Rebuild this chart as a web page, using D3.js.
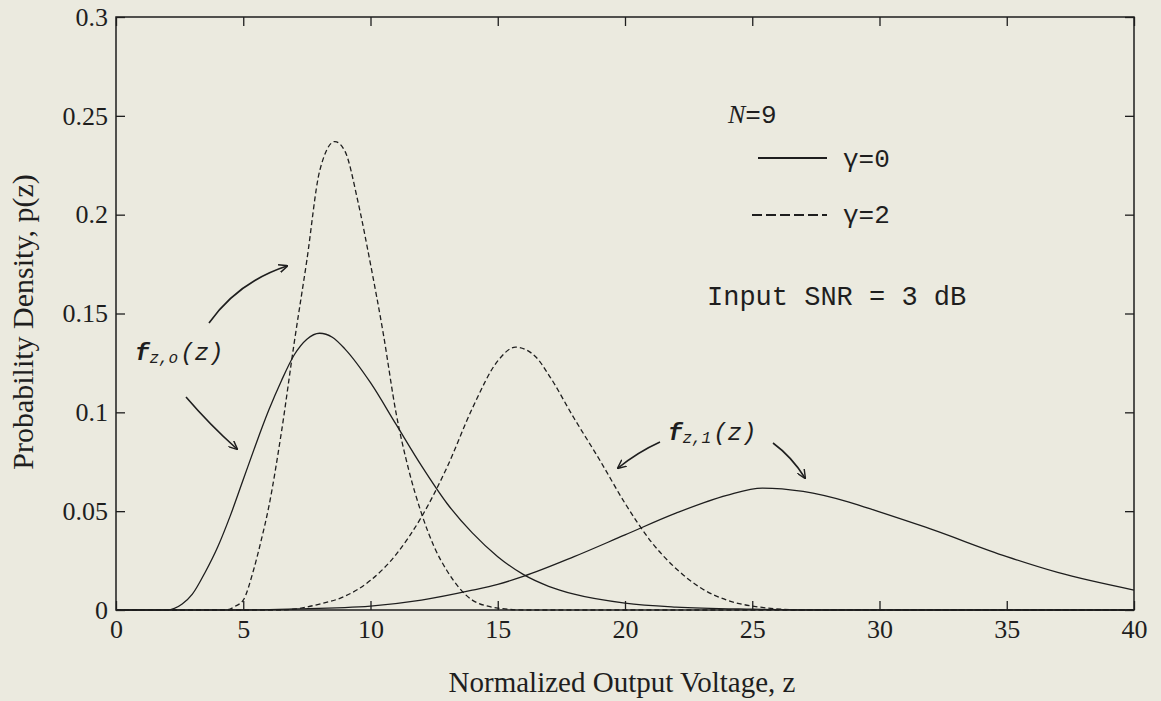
<!DOCTYPE html>
<html>
<head>
<meta charset="utf-8">
<script src="https://cdn.jsdelivr.net/npm/d3@7"></script>
<style>
  body { margin: 0; background: #ebeadf; }
  svg { display: block; }
</style>
</head>
<body>
<div id="chart"></div>
<script>
// values (z, p(z))
const xTicks = [0, 5, 10, 15, 20, 25, 30, 35, 40];
const yTicks = [0, 0.05, 0.1, 0.15, 0.2, 0.25, 0.3];

// gamma = 0, f_z,0
const zSolid0 = [0, 2, 2.6, 3, 3.5, 4, 4.5, 5, 5.5, 6, 6.5, 7, 7.5, 8, 8.5, 9, 10, 11, 12, 13, 14, 15, 16, 17, 18, 20, 22, 25, 28, 40];
const pSolid0 = [0, 0, 0.003, 0.008, 0.019, 0.032, 0.048, 0.066, 0.084, 0.101, 0.116, 0.129, 0.137, 0.140, 0.138, 0.132, 0.115, 0.094, 0.073, 0.054, 0.039, 0.027, 0.018, 0.012, 0.008, 0.0035, 0.0015, 0.0004, 0, 0];
// gamma = 0, f_z,1
const zSolid1 = [0, 5, 7, 10, 12, 14, 15, 16, 18, 20, 22, 24, 25.4, 27, 28.8, 30, 32, 35, 37, 40];
const pSolid1 = [0, 0, 0.0005, 0.002, 0.005, 0.010, 0.013, 0.017, 0.027, 0.038, 0.049, 0.058, 0.0617, 0.060, 0.0546, 0.0496, 0.041, 0.027, 0.019, 0.0101];
// gamma = 2, f_z,0
const zDash0 = [0, 4.3, 4.7, 5, 5.4, 5.7, 6, 6.5, 7, 7.5, 8, 8.6, 9, 9.5, 10, 10.5, 11, 11.5, 12, 12.5, 13, 13.5, 14, 15, 16, 40];
const pDash0 = [0, 0, 0.002, 0.005, 0.02, 0.035, 0.052, 0.09, 0.135, 0.177, 0.222, 0.237, 0.232, 0.207, 0.175, 0.140, 0.100, 0.071, 0.049, 0.032, 0.020, 0.011, 0.005, 0.001, 0, 0];
// gamma = 2, f_z,1
const zDash1 = [0, 6.5, 8, 9, 10, 11, 12, 13, 14, 15, 15.7, 16.5, 17, 18, 19, 20, 21, 22, 23, 24, 25, 27, 40];
const pDash1 = [0, 0, 0.003, 0.007, 0.015, 0.028, 0.047, 0.072, 0.102, 0.126, 0.133, 0.128, 0.119, 0.097, 0.076, 0.054, 0.035, 0.021, 0.011, 0.005, 0.002, 0, 0];

const W = 1161, H = 701;
const margin = { top: 17, right: 27, bottom: 91, left: 116 };
const width = W - margin.left - margin.right;
const height = H - margin.top - margin.bottom;
const ink = "#1e1e1e";

const svg = d3.select("#chart").append("svg")
  .attr("width", W)
  .attr("height", H);

svg.append("rect").attr("width", W).attr("height", H).attr("fill", "#ebeadf");

const g = svg.append("g")
  .attr("transform", `translate(${margin.left},${margin.top})`);

const x = d3.scaleLinear().domain([0, 40]).range([0, width]);
const y = d3.scaleLinear().domain([0, 0.3]).range([height, 0]);

// arrow marker
svg.append("defs").append("marker")
  .attr("id", "arr")
  .attr("viewBox", "0 -5 10 10")
  .attr("refX", 9).attr("refY", 0)
  .attr("markerWidth", 9).attr("markerHeight", 9)
  .attr("markerUnits", "userSpaceOnUse")
  .attr("orient", "auto")
  .append("path")
  .attr("d", "M0,-4.5L10,0L0,4.5")
  .attr("fill", "none")
  .attr("stroke", ink)
  .attr("stroke-width", 1.6);

// curves
const line = d3.line()
  .x(d => x(d[0]))
  .y(d => y(d[1]))
  .curve(d3.curveMonotoneX);

const curves = [
  { z: zSolid0, p: pSolid0, dash: null },
  { z: zSolid1, p: pSolid1, dash: null },
  { z: zDash0, p: pDash0, dash: "5,3" },
  { z: zDash1, p: pDash1, dash: "5,3" }
];

curves.forEach(c => {
  g.append("path")
    .datum(d3.zip(c.z, c.p))
    .attr("fill", "none")
    .attr("stroke", ink)
    .attr("stroke-width", 1.3)
    .attr("stroke-dasharray", c.dash)
    .attr("d", line);
});

// frame
g.append("rect")
  .attr("width", width).attr("height", height)
  .attr("fill", "none")
  .attr("stroke", ink)
  .attr("stroke-width", 1.5);

// axes with inward ticks
const tickFont = "Liberation Serif, Times New Roman, serif";

g.append("g")
  .attr("transform", `translate(0,${height})`)
  .call(d3.axisBottom(x).tickValues(xTicks).tickSizeInner(-9).tickSizeOuter(0).tickPadding(10))
  .call(a => a.select(".domain").remove())
  .call(a => a.selectAll(".tick line").attr("stroke", ink).attr("stroke-width", 1.3))
  .call(a => a.selectAll(".tick text").attr("fill", ink).style("font-family", tickFont).style("font-size", "26px"));

g.append("g")
  .call(d3.axisTop(x).tickValues(xTicks).tickSizeInner(-9).tickSizeOuter(0).tickFormat(""))
  .call(a => a.select(".domain").remove())
  .call(a => a.selectAll(".tick line").attr("stroke", ink).attr("stroke-width", 1.3));

g.append("g")
  .call(d3.axisLeft(y).tickValues(yTicks).tickSizeInner(-9).tickSizeOuter(0).tickPadding(8)
    .tickFormat(d => d3.format("~g")(d)))
  .call(a => a.select(".domain").remove())
  .call(a => a.selectAll(".tick line").attr("stroke", ink).attr("stroke-width", 1.3))
  .call(a => a.selectAll(".tick text").attr("fill", ink).style("font-family", tickFont).style("font-size", "26px"));

g.append("g")
  .attr("transform", `translate(${width},0)`)
  .call(d3.axisRight(y).tickValues(yTicks).tickSizeInner(-9).tickSizeOuter(0).tickFormat(""))
  .call(a => a.select(".domain").remove())
  .call(a => a.selectAll(".tick line").attr("stroke", ink).attr("stroke-width", 1.3));

// axis titles
svg.append("text")
  .attr("x", 622)
  .attr("y", 692)
  .attr("text-anchor", "middle")
  .attr("fill", ink)
  .style("font-family", tickFont)
  .style("font-size", "29px")
  .text("Normalized Output Voltage, z");

svg.append("text")
  .attr("transform", "translate(33,322) rotate(-90)")
  .attr("text-anchor", "middle")
  .attr("fill", ink)
  .style("font-family", tickFont)
  .style("font-size", "30px")
  .text("Probability Density, p(z)");

// legend
const mono = "Liberation Mono, Courier New, monospace";
const nText = svg.append("text")
  .attr("x", 728).attr("y", 123)
  .attr("fill", ink)
  .style("font-family", mono)
  .style("font-size", "26px");
nText.append("tspan").style("font-family", tickFont).style("font-style", "italic").text("N");
nText.append("tspan").text("=9");

svg.append("line")
  .attr("x1", 758).attr("x2", 827).attr("y1", 158).attr("y2", 158)
  .attr("stroke", ink).attr("stroke-width", 2);
svg.append("line")
  .attr("x1", 752).attr("x2", 827).attr("y1", 215).attr("y2", 215)
  .attr("stroke", ink).attr("stroke-width", 1.8)
  .attr("stroke-dasharray", "10,4");

[["γ=0", 167], ["γ=2", 223]].forEach(([t, yy]) => {
  svg.append("text")
    .attr("x", 843).attr("y", yy)
    .attr("fill", ink)
    .style("font-family", mono)
    .style("font-size", "26px")
    .text(t);
});

svg.append("text")
  .attr("x", 707).attr("y", 305)
  .attr("fill", ink)
  .style("font-family", mono)
  .style("font-size", "27px")
  .text("Input SNR = 3 dB");

// curve labels
function fLabel(x0, y0, sub) {
  const t = svg.append("text")
    .attr("x", x0).attr("y", y0)
    .attr("fill", ink)
    .style("font-family", mono)
    .style("font-style", "italic")
    .style("font-size", "24px");
  t.append("tspan").style("font-weight", "bold").text("f");
  t.append("tspan").attr("dy", 3).style("font-size", "16px").text(sub);
  t.append("tspan").attr("dy", -3).attr("dx", 2).text("(z)");
}
fLabel(135, 360, "z,o");
fLabel(668, 440, "z,1");

// arrows
const arrows = [
  "M209,323 Q238,282 287,266",
  "M186,397 Q210,425 237,449",
  "M660,442 Q638,452 618,468",
  "M773,443 Q792,457 805,478"
];
arrows.forEach(d => {
  svg.append("path")
    .attr("d", d)
    .attr("fill", "none")
    .attr("stroke", ink)
    .attr("stroke-width", 1.6)
    .attr("marker-end", "url(#arr)");
});
</script>
</body>
</html>
